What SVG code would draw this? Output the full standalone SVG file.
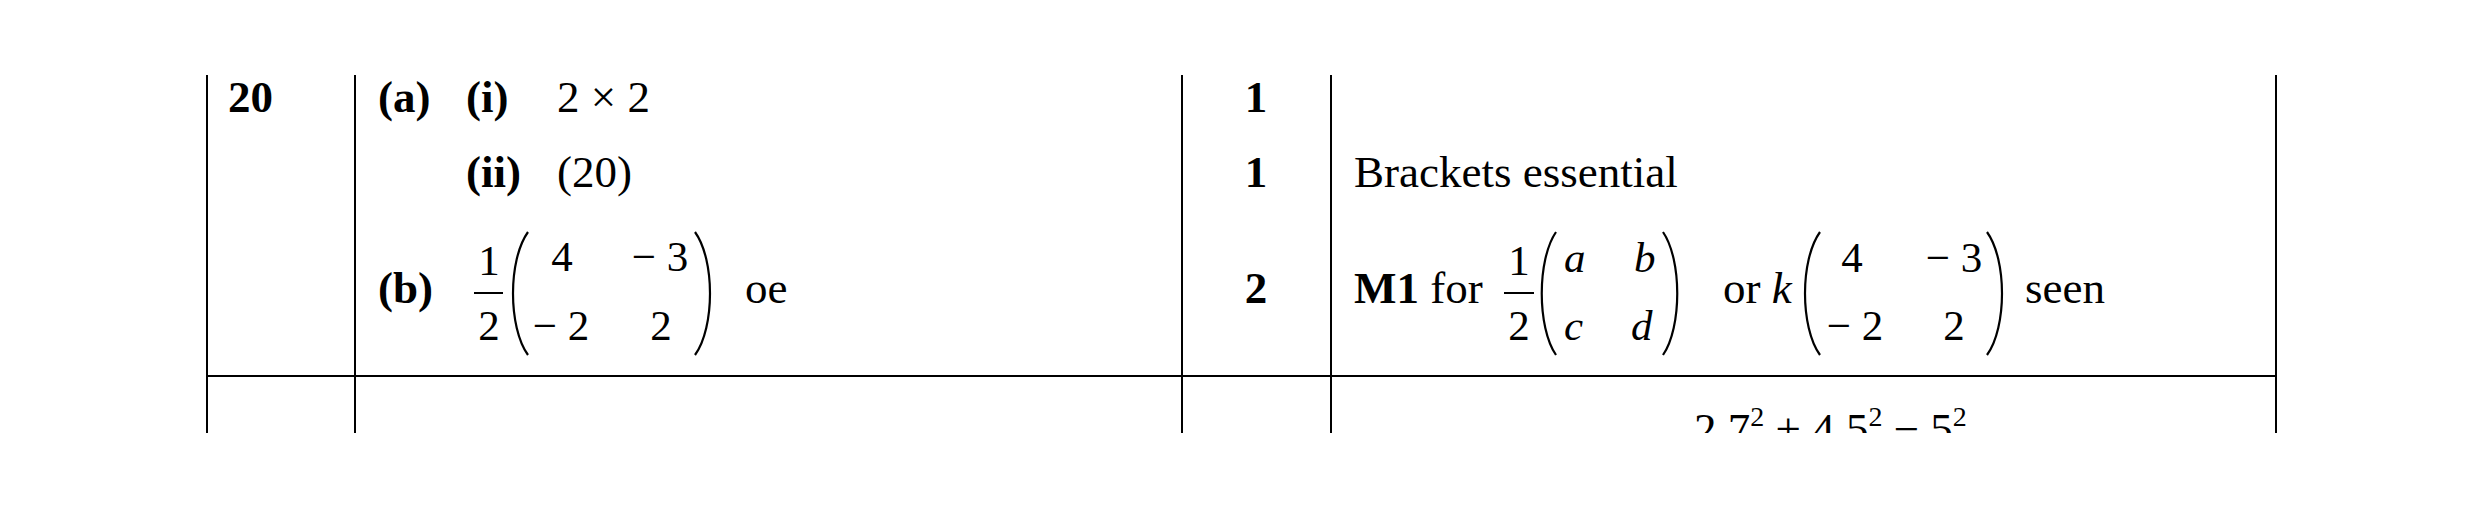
<svg xmlns="http://www.w3.org/2000/svg" width="2480" height="509" viewBox="0 0 2480 509">
<style>
text{font-family:"Liberation Serif","Times New Roman",serif;font-size:45px;fill:#000}
.b{font-weight:bold}
.m{font-family:"Liberation Serif","Times New Roman",serif;font-size:43px}
.i{font-style:italic}
.c{text-anchor:middle}
.ln{stroke:#000;stroke-width:2;fill:none}
.p{stroke:#000;stroke-width:2.2;fill:none}
</style>
<defs><clipPath id="cl"><rect x="0" y="0" width="2480" height="433"/></clipPath></defs>
<g id="grid">
<line class="ln" x1="207" y1="75" x2="207" y2="433"/>
<line class="ln" x1="355" y1="75" x2="355" y2="433"/>
<line class="ln" x1="1182" y1="75" x2="1182" y2="433"/>
<line class="ln" x1="1331" y1="75" x2="1331" y2="433"/>
<line class="ln" x1="2276" y1="75" x2="2276" y2="433"/>
<line class="ln" x1="206" y1="376" x2="2277" y2="376" stroke-width="2.5"/>
</g>
<g id="q">
<text class="b" x="228" y="112">20</text>
</g>
<g id="a">
<text class="b" x="378" y="112">(a)</text>
<text class="b" x="466" y="112">(i)</text>
<text x="557" y="112">2 × 2</text>
<text class="b" x="466" y="187">(ii)</text>
<text x="557" y="187">(20)</text>
</g>
<g id="b">
<text class="b" x="378" y="303">(b)</text>
<text class="m c" x="489" y="275">1</text>
<line class="ln" x1="474" y1="293" x2="503" y2="293"/>
<text class="m c" x="489" y="340">2</text>
<path class="p" d="M528,232 C508,260 508,327 528,355"/>
<text class="m c" x="562" y="271">4</text>
<text class="m c" x="660" y="271">− 3</text>
<text class="m c" x="561" y="340">− 2</text>
<text class="m c" x="661" y="340">2</text>
<path class="p" d="M695,232 C715,260 715,327 695,355"/>
<text x="745" y="303">oe</text>
</g>
<g id="marks">
<text class="b c" x="1256" y="112">1</text>
<text class="b c" x="1256" y="187">1</text>
<text class="b c" x="1256" y="303">2</text>
</g>
<g id="notes">
<text x="1354" y="187">Brackets essential</text>
<text x="1354" y="303"><tspan class="b">M1</tspan> for</text>
<text class="m c" x="1519" y="275">1</text>
<line class="ln" x1="1504" y1="293" x2="1534" y2="293"/>
<text class="m c" x="1519" y="340">2</text>
<path class="p" d="M1556,232 C1537,260 1537,327 1556,355"/>
<text class="m i" x="1564" y="272">a</text>
<text class="m i" x="1634" y="272">b</text>
<text class="m i" x="1564" y="340">c</text>
<text class="m i" x="1631" y="340">d</text>
<path class="p" d="M1663,232 C1682,260 1682,327 1663,355"/>
<text x="1723" y="303">or <tspan class="i">k</tspan></text>
<path class="p" d="M1820,232 C1800,260 1800,327 1820,355"/>
<text class="m c" x="1852" y="272">4</text>
<text class="m c" x="1954" y="272">− 3</text>
<text class="m c" x="1855" y="340">− 2</text>
<text class="m c" x="1954" y="340">2</text>
<path class="p" d="M1987,232 C2007,260 2007,327 1987,355"/>
<text x="2025" y="303">seen</text>
<g clip-path="url(#cl)">
<text x="1694" y="444">2.7<tspan font-size="28" dy="-18">2</tspan><tspan dy="18"> + 4.5</tspan><tspan font-size="28" dy="-18">2</tspan><tspan dy="18"> − 5</tspan><tspan font-size="28" dy="-18">2</tspan></text>
</g>
</g>
</svg>
